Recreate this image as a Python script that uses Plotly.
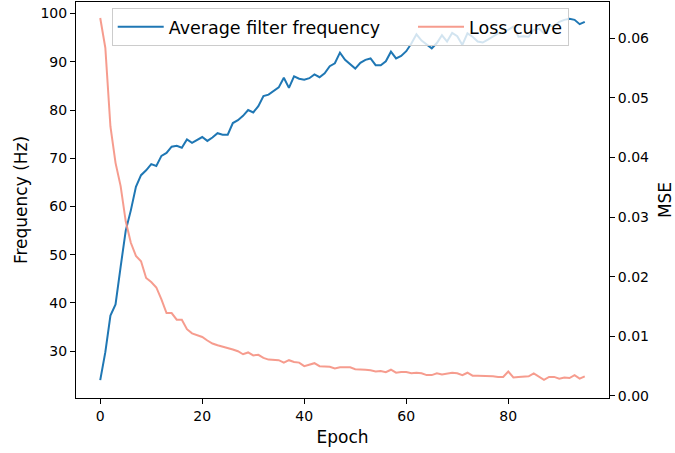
import plotly.graph_objects as go

epochs = list(range(96))

avg_freq = [
    24.0, 29.8, 37.4, 39.7, 47.5, 55.0, 59.2, 64.1, 66.5, 67.5,
    68.8, 68.4, 70.5, 71.1, 72.4, 72.6, 72.2, 73.9, 73.2, 73.8,
    74.4, 73.6, 74.3, 75.2, 74.9, 74.9, 77.3, 77.9, 78.8, 80.0,
    79.5, 80.8, 82.9, 83.2, 84.0, 84.7, 86.7, 84.6, 87.0, 86.5,
    86.3, 86.6, 87.4, 86.8, 87.6, 89.1, 89.7, 91.9, 90.4, 89.5,
    88.6, 89.8, 90.4, 90.7, 89.3, 89.3, 90.1, 92.1, 90.7, 91.2,
    92.2, 93.8, 95.7, 94.4, 93.6, 92.8, 93.9, 95.5, 94.2, 96.0,
    95.3, 93.5, 95.9, 95.2, 94.2, 94.0, 94.6, 95.3, 95.9, 96.0,
    96.6, 97.3, 95.2, 95.3, 95.2, 96.6, 96.9, 95.9, 97.4, 97.4,
    98.3, 98.7, 98.9, 98.7, 97.8, 98.3,
]

loss_mse = [
    0.0634, 0.0584, 0.0452, 0.0391, 0.0352, 0.0293, 0.0257, 0.0235, 0.0226, 0.0198,
    0.0191, 0.0182, 0.0162, 0.0139, 0.0139, 0.0128, 0.0128, 0.0112, 0.0105, 0.0102,
    0.0099, 0.0093, 0.0088, 0.0085, 0.0083, 0.0081, 0.0078, 0.0075, 0.0070, 0.0073,
    0.0068, 0.0069, 0.0064, 0.0061, 0.0060, 0.0060, 0.0056, 0.0060, 0.0057, 0.0056,
    0.0050, 0.0053, 0.0055, 0.0050, 0.0050, 0.0049, 0.0046, 0.0048, 0.0048, 0.0048,
    0.0045, 0.0045, 0.0044, 0.0043, 0.0041, 0.0042, 0.0040, 0.0044, 0.0039, 0.0040,
    0.0040, 0.0038, 0.0039, 0.0038, 0.0035, 0.0035, 0.0038, 0.0036, 0.0038, 0.0039,
    0.0038, 0.0035, 0.0039, 0.0034, 0.0034, 0.0034, 0.0034, 0.0033, 0.0032, 0.0032,
    0.0041, 0.0031, 0.0032, 0.0033, 0.0033, 0.0038, 0.0032, 0.0027, 0.0032, 0.0032,
    0.0029, 0.0031, 0.0030, 0.0035, 0.0029, 0.0033,
]

FONT = "DejaVu Sans"
NB = "\u00a0"

fig = go.Figure()
fig.add_trace(go.Scatter(
    x=epochs, y=avg_freq, mode="lines",
    name="Average filter frequency" + NB * 5,
    line=dict(color="#1f77b4", width=2),
    yaxis="y",
))
fig.add_trace(go.Scatter(
    x=epochs, y=loss_mse, mode="lines",
    name="Loss curve",
    line=dict(color="rgba(245,145,130,0.9)", width=2),
    yaxis="y2",
))

axis_common = dict(
    showgrid=False, zeroline=False, showline=True, linecolor="black", linewidth=1,
    ticks="outside", ticklen=5, tickwidth=1, tickcolor="black",
    tickfont=dict(family=FONT, size=14, color="black"),
)

fig.update_layout(
    width=675, height=453,
    margin=dict(l=76, r=66, t=2, b=55),
    paper_bgcolor="white", plot_bgcolor="white",
    font=dict(family=FONT, color="black"),
    xaxis=dict(
        range=[-4.75, 99.75], tickmode="array", tickvals=[0, 20, 40, 60, 80],
        mirror=True,
        title=dict(text="Epoch", font=dict(family=FONT, size=17, color="black"), standoff=8),
        **axis_common,
    ),
    yaxis=dict(
        range=[20.3, 102.4], tickmode="array", tickvals=[30, 40, 50, 60, 70, 80, 90, 100],
        title=dict(text="Frequency (Hz)", font=dict(family=FONT, size=17, color="black"), standoff=8),
        **axis_common,
    ),
    yaxis2=dict(
        range=[-0.00034, 0.06608], overlaying="y", side="right",
        tickmode="array", tickvals=[0, 0.01, 0.02, 0.03, 0.04, 0.05, 0.06], tickformat=".2f",
        title=dict(text="MSE", font=dict(family=FONT, size=17, color="black"), standoff=12),
        **axis_common,
    ),
    legend=dict(
        orientation="h", x=0.067, y=0.985, xanchor="left", yanchor="top",
        bgcolor="rgba(255,255,255,0.8)", bordercolor="#cccccc", borderwidth=1,
        font=dict(family=FONT, size=17.5, color="black"), itemwidth=46,
    ),
    showlegend=True,
)

fig.write_html("out.html")
